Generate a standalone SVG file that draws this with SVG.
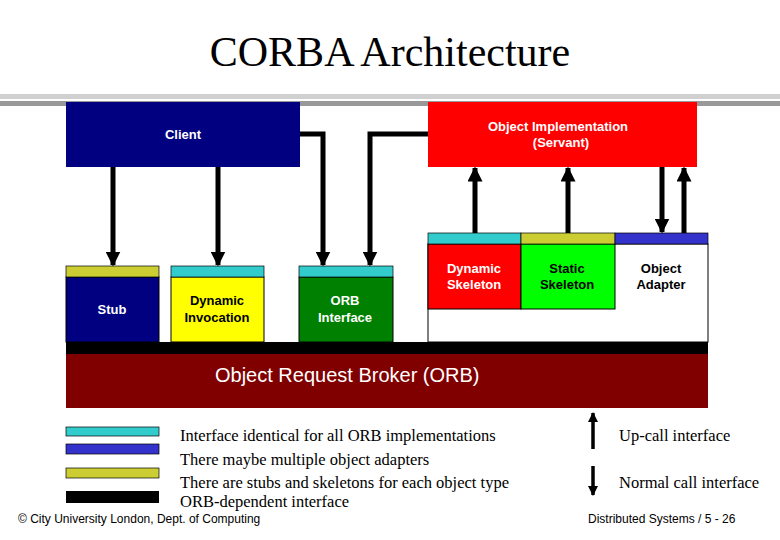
<svg xmlns="http://www.w3.org/2000/svg" width="780" height="540" viewBox="0 0 780 540">
<style>
.s{font-family:"Liberation Sans",Arial,sans-serif;font-size:13px;font-weight:bold;text-anchor:middle}
.w{fill:#fff}.k{fill:#000}
.t{font-family:"Liberation Serif","Times New Roman",serif;font-size:16.5px}
.cy{fill:#33cccc;stroke:#000;stroke-width:0.7}
.bl{fill:#3333cc;stroke:#000;stroke-width:0.7}
.ye{fill:#cccc33;stroke:#000;stroke-width:0.7}
.ln{stroke:#000;stroke-width:5;fill:none}
</style>
<defs>
<marker id="ah" viewBox="0 0 10 10" refX="9" refY="5" markerWidth="3" markerHeight="3" orient="auto" markerUnits="strokeWidth"><path d="M0,0L10,5L0,10z" fill="#000"/></marker>
</defs>
<rect width="780" height="540" fill="#fff"/>
<text x="390" y="66" text-anchor="middle" font-family="'Liberation Serif',serif" font-size="42">CORBA Architecture</text>
<rect x="0" y="94" width="780" height="5" fill="#d0d0d0"/>
<rect x="0" y="101" width="780" height="5" fill="#999"/>
<g id="orb">
<rect x="66" y="342" width="642" height="12" fill="#000"/>
<rect x="66" y="354" width="642" height="54" fill="#800000"/>
<text x="215" y="382" font-family="'Liberation Sans',sans-serif" font-size="20" fill="#fff">Object Request Broker (ORB)</text>
</g>
<g id="client"><rect x="66" y="102" width="234" height="65" fill="#000080"/><text class="s w" x="183" y="139">Client</text></g>
<g id="servant"><rect x="428" y="102" width="269" height="65" fill="#ff0000"/><text class="s w" x="558" y="131">Object Implementation</text><text class="s w" x="561" y="147">(Servant)</text></g>
<g id="stub"><rect x="66" y="277" width="93" height="65" fill="#000080" stroke="#000"/><rect class="ye" x="66" y="266" width="93" height="11"/><text class="s w" x="112" y="314">Stub</text></g>
<g id="dii"><rect x="171" y="277" width="93" height="65" fill="#ffff00" stroke="#000"/><rect class="cy" x="171" y="266" width="93" height="11"/><text class="s k" x="217" y="305">Dynamic</text><text class="s k" x="217" y="322">Invocation</text></g>
<g id="orbif"><rect x="299" y="277" width="94" height="65" fill="#008000" stroke="#000"/><rect class="cy" x="299" y="266" width="94" height="11"/><text class="s w" x="345" y="305">ORB</text><text class="s w" x="345" y="322">Interface</text></g>
<g id="adapterbox"><rect x="428" y="244" width="280" height="98" fill="#fff" stroke="#000"/></g>
<g id="dsk"><rect x="428" y="244" width="93" height="65" fill="#ff0000" stroke="#000"/><rect class="cy" x="428" y="233" width="93" height="11"/><text class="s w" x="474" y="273">Dynamic</text><text class="s w" x="474" y="289">Skeleton</text></g>
<g id="ssk"><rect x="521" y="244" width="94" height="65" fill="#00ff00" stroke="#000"/><rect class="ye" x="521" y="233" width="94" height="11"/><text class="s k" x="567" y="273">Static</text><text class="s k" x="567" y="289">Skeleton</text></g>
<g id="oa"><rect class="bl" x="615" y="233" width="93" height="11"/><text class="s k" x="661" y="273">Object</text><text class="s k" x="661" y="289">Adapter</text></g>
<g id="connectors">
<line class="ln" x1="113" y1="167" x2="113" y2="265" marker-end="url(#ah)"/>
<line class="ln" x1="218" y1="167" x2="218" y2="265" marker-end="url(#ah)"/>
<polyline class="ln" points="300,134 323,134 323,265" marker-end="url(#ah)"/>
<polyline class="ln" points="428,134 370,134 370,265" marker-end="url(#ah)"/>
<line class="ln" x1="475" y1="233" x2="475" y2="168" marker-end="url(#ah)"/>
<line class="ln" x1="568" y1="233" x2="568" y2="168" marker-end="url(#ah)"/>
<line class="ln" x1="662" y1="167" x2="662" y2="232" marker-end="url(#ah)"/>
<line class="ln" x1="684" y1="233" x2="684" y2="168" marker-end="url(#ah)"/>
<line x1="593" y1="449" x2="593" y2="413" stroke="#000" stroke-width="3.5" marker-end="url(#ah)"/>
<line x1="593" y1="466" x2="593" y2="495" stroke="#000" stroke-width="3.5" marker-end="url(#ah)"/>
</g>
<g id="legend">
<rect class="cy" x="66" y="427" width="93" height="9"/>
<rect class="bl" x="66" y="444" width="93" height="10"/>
<rect class="ye" x="66" y="468" width="93" height="10"/>
<rect x="66" y="491" width="93" height="12" fill="#000"/>
<text class="t" x="180" y="441">Interface identical for all ORB implementations</text>
<text class="t" x="180" y="465">There maybe multiple object adapters</text>
<text class="t" x="180" y="488">There are stubs and skeletons for each object type</text>
<text class="t" x="180" y="507">ORB-dependent interface</text>
<text class="t" x="619" y="441">Up-call interface</text>
<text class="t" x="619" y="488">Normal call interface</text>
</g>
<text x="18" y="523" font-family="'Liberation Sans',sans-serif" font-size="12">© City University London, Dept. of Computing</text>
<text x="588" y="523" font-family="'Liberation Sans',sans-serif" font-size="12">Distributed Systems / 5 - 26</text>
</svg>
